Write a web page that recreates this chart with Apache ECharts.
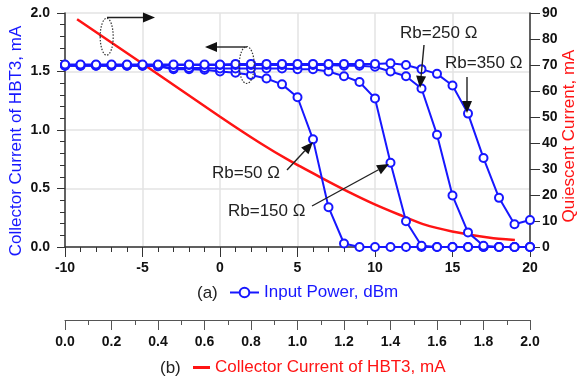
<!DOCTYPE html>
<html>
<head>
<meta charset="utf-8">
<script src="https://cdn.jsdelivr.net/npm/echarts@6.0.0/dist/echarts.min.js"></script>
<style>
  html, body { margin: 0; padding: 0; background: #fff; }
  #chart { width: 580px; height: 378px; }
</style>
</head>
<body>
<div id="chart"></div>
<script>
// (a) input power sweep, dBm
const inputPower = [-10, -9, -8, -7, -6, -5, -4, -3, -2, -1, 0, 1, 2, 3, 4, 5, 6, 7, 8, 9, 10, 11, 12, 13, 14, 15, 16, 17, 18, 19, 20];

// collector current of HBT3 (mA) for each base resistor
const rb50 = [1.55, 1.55, 1.55, 1.55, 1.55, 1.55, 1.545, 1.52, 1.52, 1.515, 1.50, 1.49, 1.47, 1.44, 1.39, 1.28, 0.92, 0.34, 0.03, 0, 0, 0, 0, 0, 0, 0, 0, 0, 0, 0, 0];
const rb150 = [1.55, 1.55, 1.55, 1.55, 1.55, 1.55, 1.545, 1.53, 1.53, 1.53, 1.525, 1.525, 1.525, 1.525, 1.525, 1.52, 1.52, 1.50, 1.46, 1.41, 1.27, 0.72, 0.22, 0.01, 0, 0, 0, 0, 0, 0, 0];
const rb250 = [1.555, 1.555, 1.555, 1.555, 1.555, 1.555, 1.555, 1.555, 1.555, 1.555, 1.555, 1.555, 1.555, 1.555, 1.555, 1.555, 1.555, 1.555, 1.55, 1.55, 1.54, 1.50, 1.46, 1.355, 0.96, 0.44, 0.125, 0.01, 0, 0, 0];
const rb350 = [1.56, 1.56, 1.56, 1.56, 1.56, 1.56, 1.56, 1.56, 1.56, 1.56, 1.56, 1.565, 1.565, 1.565, 1.565, 1.565, 1.565, 1.565, 1.565, 1.565, 1.565, 1.57, 1.555, 1.52, 1.48, 1.38, 1.14, 0.76, 0.42, 0.195, 0.23];

// (b) quiescent current (mA) vs collector current of HBT3 (mA)
const collectorCurrent = [0.052, 0.331, 0.667, 0.839, 0.968, 1.097, 1.213, 1.325, 1.441, 1.540, 1.665, 1.828, 1.935];
const quiescentCurrent = [87.6, 70.7, 50.1, 40.0, 33.1, 26.9, 21.5, 16.7, 12.3, 8.8, 6.0, 3.6, 2.7];

const FONT = '"Liberation Sans", Arial, sans-serif';
const BLUE = '#1717ff';
const RED = '#ff1414';
const AXIS = '#333';
const GRID = '#e3e3e3';

const chart = echarts.init(document.getElementById('chart'), null, { renderer: 'canvas' });

const tickLabel = { color: '#111', fontSize: 14, fontWeight: 'bold', fontFamily: FONT };

function blueSeries(values) {
  return {
    name: 'Input Power, dBm',
    type: 'line',
    xAxisIndex: 0,
    yAxisIndex: 0,
    data: inputPower.map((p, i) => [p, values[i]]),
    symbol: 'emptyCircle',
    symbolSize: 8,
    lineStyle: { color: BLUE, width: 2 },
    itemStyle: { color: BLUE, borderColor: BLUE, borderWidth: 1.5 },
    z: 3,
  };
}

function arrow(x1, y1, x2, y2) {
  const a = Math.atan2(y2 - y1, x2 - x1);
  const L = 12, W = 5;
  const bx = x2 - L * Math.cos(a), by = y2 - L * Math.sin(a);
  const nx = -Math.sin(a) * W, ny = Math.cos(a) * W;
  return [
    { type: 'line', z: 100, shape: { x1, y1, x2: bx, y2: by }, style: { stroke: '#222', lineWidth: 1.4 } },
    { type: 'polygon', z: 100, shape: { points: [[x2, y2], [bx + nx, by + ny], [bx - nx, by - ny]] }, style: { fill: '#111' } },
  ];
}

function label(text, x, y, color) {
  return {
    type: 'text', z: 100,
    style: { x, y, text, fill: color || '#222', font: '17px ' + FONT, verticalAlign: 'middle' },
  };
}

function vtitle(text, x, y, color) {
  return {
    type: 'text', z: 100, x, y, rotation: Math.PI / 2,
    style: { text, fill: color, font: '17px ' + FONT, align: 'center', verticalAlign: 'middle' },
  };
}

function ellipse(cx, cy, rx, ry) {
  return {
    type: 'ellipse', z: 100,
    shape: { cx, cy, rx, ry },
    style: { fill: 'none', stroke: '#333', lineWidth: 1.2, lineDash: [1.5, 1.5] },
  };
}

const option = {
  backgroundColor: '#fff',
  animation: false,
  grid: [
    { left: 65, top: 13, width: 465, height: 234, outerBoundsMode: 'none', containLabel: false },
    { left: 65, top: 300, width: 465, height: 20, outerBoundsMode: 'none', containLabel: false },
  ],
  xAxis: [
    {
      type: 'value', gridIndex: 0, min: -10, max: 20, interval: 5,
      axisLine: { onZero: false, lineStyle: { color: AXIS, width: 1.5 } },
      axisTick: { length: 10, lineStyle: { color: AXIS } },
      minorTick: { show: true, splitNumber: 5, length: 5, lineStyle: { color: AXIS } },
      splitLine: { show: true, lineStyle: { color: GRID, width: 1.5 } },
      axisLabel: { ...tickLabel, margin: 14, showMinLabel: true, showMaxLabel: true },
    },
    {
      type: 'value', gridIndex: 0, min: 0, max: 2, show: false,
    },
    {
      type: 'value', gridIndex: 1, min: 0, max: 2, interval: 0.2, position: 'bottom',
      axisLine: { onZero: false, lineStyle: { color: '#555', width: 1.2 } },
      axisTick: { length: 10, lineStyle: { color: '#555' } },
      minorTick: { show: true, splitNumber: 2, length: 5, lineStyle: { color: '#555' } },
      splitLine: { show: false },
      axisLabel: { ...tickLabel, margin: 15, showMinLabel: true, showMaxLabel: true, formatter: (v) => v.toFixed(1) },
    },
  ],
  yAxis: [
    {
      type: 'value', gridIndex: 0, min: 0, max: 2, interval: 0.5, position: 'left',
      axisLine: { show: true, onZero: false, lineStyle: { color: AXIS, width: 1.5 } },
      axisTick: { show: true, length: 8, lineStyle: { color: AXIS } },
      minorTick: { show: true, splitNumber: 5, length: 5, lineStyle: { color: AXIS } },
      splitLine: { show: true, lineStyle: { color: GRID, width: 1.5 } },
      axisLabel: { ...tickLabel, margin: 15, formatter: (v) => v.toFixed(1) },
    },
    {
      type: 'value', gridIndex: 0, min: 0, max: 90, interval: 10, position: 'right',
      axisLine: { show: true, onZero: false, lineStyle: { color: AXIS, width: 1.5 } },
      axisTick: { show: true, length: 10, lineStyle: { color: AXIS } },
      splitLine: { show: false },
      axisLabel: { ...tickLabel, margin: 12 },
    },
    { type: 'value', gridIndex: 1, show: false, min: 0, max: 1 },
  ],
  legend: [
    {
      data: [{ name: 'Input Power, dBm', textStyle: { color: BLUE } }],
      left: 229, top: 284, itemWidth: 29, itemHeight: 12, selectedMode: false,
      padding: 0,
      textStyle: { fontSize: 17, fontFamily: FONT },
    },
    {
      data: [{ name: 'Collector Current of HBT3, mA', icon: 'rect', textStyle: { color: RED } }],
      left: 193, top: 359, itemWidth: 17, itemHeight: 3, selectedMode: false,
      padding: 0,
      itemStyle: { color: RED },
      textStyle: { fontSize: 17, fontFamily: FONT },
    },
  ],
  series: [
    {
      name: 'Collector Current of HBT3, mA',
      type: 'line',
      xAxisIndex: 1,
      yAxisIndex: 1,
      data: collectorCurrent.map((c, i) => [c, quiescentCurrent[i]]),
      symbol: 'none',
      smooth: 0.2,
      lineStyle: { color: RED, width: 2.5 },
      itemStyle: { color: RED },
      z: 2,
    },
    blueSeries(rb50),
    blueSeries(rb150),
    blueSeries(rb250),
    blueSeries(rb350),
  ],
  graphic: [
    vtitle('Collector Current of HBT3, mA', 16, 141, BLUE),
    vtitle('Quiescent Current, mA', 569, 136, RED),
    label('(a)', 197, 293, '#222'),
    label('(b)', 160, 368, '#222'),
    label('Rb=250 \u03A9', 400, 33),
    label('Rb=350 \u03A9', 445, 63),
    label('Rb=50 \u03A9', 212, 173),
    label('Rb=150 \u03A9', 228, 211),
    ...arrow(287, 170, 313, 142),
    ...arrow(312, 206, 389, 164),
    ...arrow(424, 45, 420, 88),
    ...arrow(467, 77, 467, 113),
    ...arrow(107, 17.5, 155, 17.5),
    ...arrow(247, 47, 205, 47),
    ellipse(106.7, 36.7, 6.5, 18.5),
    ellipse(246.7, 65, 7.5, 18.5),
  ],
};

chart.setOption(option);
</script>
</body>
</html>
